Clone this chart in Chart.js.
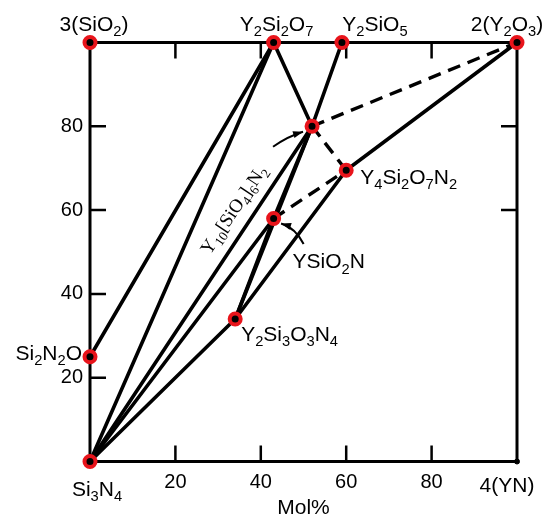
<!DOCTYPE html>
<html>
<head>
<meta charset="utf-8">
<script src="https://cdn.jsdelivr.net/npm/chart.js@4.4.1/dist/chart.umd.min.js"></script>
<style>
  body { margin: 0; background: #fff; }
  #wrap { width: 546px; height: 519px; }
</style>
</head>
<body>
<div id="wrap"><canvas id="phase"></canvas></div>
<script>
// compositions: x = mol% toward YN side, y = mol% toward oxide side
const compounds = ['Si3N4', '3(SiO2)', 'Y2Si2O7', 'Y2SiO5', '2(Y2O3)', '4(YN)', 'Si2N2O', 'Y10[SiO4]6N2', 'Y4Si2O7N2', 'YSiO2N', 'Y2Si3O3N4'];
const molX = [0, 0, 43, 59, 100, 100, 0, 52, 60, 43, 34];
const molY = [0, 100, 100, 100, 100, 0, 25, 80, 69.5, 58, 34];

// tie lines between compounds
const solidTies = [
  ['Si2N2O', 'Y2Si2O7'],
  ['Si3N4', 'Y2Si2O7'],
  ['Si3N4', 'Y10[SiO4]6N2'],
  ['Si3N4', 'YSiO2N'],
  ['Si3N4', 'Y2Si3O3N4'],
  ['Y2Si2O7', 'Y10[SiO4]6N2'],
  ['Y10[SiO4]6N2', 'Y2SiO5'],
  ['YSiO2N', 'Y10[SiO4]6N2'],
  ['Y2Si3O3N4', 'YSiO2N'],
  ['Y2Si3O3N4', 'Y10[SiO4]6N2'],
  ['Y2Si3O3N4', 'Y4Si2O7N2'],
  ['Y4Si2O7N2', '2(Y2O3)']
];
const dashedTies = [
  ['Y10[SiO4]6N2', '2(Y2O3)'],
  ['Y10[SiO4]6N2', 'Y4Si2O7N2'],
  ['YSiO2N', 'Y4Si2O7N2']
];
const axisTicks = [20, 40, 60, 80];
const axisTitle = 'Mol%';

const SANS = '"Liberation Sans", Arial, sans-serif';
const SERIF = '"Liberation Serif", "Times New Roman", serif';
const RED = '#e8141b';

// label placement (pixel offsets from the point)
const labelStyle = {
  'Si3N4':        { dx: 7,   dy: 34,  align: 'center' },
  '3(SiO2)':      { dx: 4,   dy: -12, align: 'center' },
  'Y2Si2O7':      { dx: 3,   dy: -12, align: 'center' },
  'Y2SiO5':       { dx: 33,  dy: -12, align: 'center' },
  '2(Y2O3)':      { dx: -10, dy: -12, align: 'center' },
  '4(YN)':        { dx: -10, dy: 30,  align: 'center' },
  'Si2N2O':       { dx: -8,  dy: 3,   align: 'right' },
  'Y4Si2O7N2':    { dx: 14,  dy: 14,  align: 'left' },
  'YSiO2N':       { dx: 19,  dy: 50,  align: 'left' },
  'Y2Si3O3N4':    { dx: 6,   dy: 22,  align: 'left' },
  'Y10[SiO4]6N2': { dx: -79, dy: 83,  align: 'center', rot: -56, serif: true, size: 19 }
};
// arrows pointing at a compound: tail, control, head offsets in px
const arrowStyle = {
  'Y10[SiO4]6N2': { tail: [-39, 20.5], ctrl: [-24, 10], head: [-9, 5.5] },
  'YSiO2N':       { tail: [30, 25.5],  ctrl: [22, 9.5], head: [7.5, 5] }
};

function pt(name) {
  const i = compounds.indexOf(name);
  return { x: molX[i], y: molY[i] };
}

function drawChem(ctx, str, x, y, size, align, family) {
  const parts = str.split(/(?<=[A-Za-z\)\]])(\d+)/);
  const subSize = size * 0.7;
  let w = 0;
  const runs = parts.map((p, i) => {
    const sub = i % 2 === 1;
    ctx.font = (sub ? subSize : size) + 'px ' + family;
    const rw = ctx.measureText(p).width;
    w += rw;
    return { p, sub, rw };
  });
  let cx = align === 'left' ? x : align === 'right' ? x - w : x - w / 2;
  ctx.textAlign = 'left';
  ctx.textBaseline = 'alphabetic';
  runs.forEach(r => {
    ctx.font = (r.sub ? subSize : size) + 'px ' + family;
    ctx.fillText(r.p, cx, r.sub ? y + size * 0.24 : y);
    cx += r.rw;
  });
}

const diagramPlugin = {
  id: 'diagram',
  beforeDatasetsDraw(chart) {
    const ctx = chart.ctx;
    const xs = chart.scales.x, ys = chart.scales.y;
    const x0 = xs.getPixelForValue(0), x1 = xs.getPixelForValue(100);
    const y0 = ys.getPixelForValue(0), y1 = ys.getPixelForValue(100);
    const tl = 16;
    ctx.save();
    ctx.strokeStyle = '#000';
    ctx.lineWidth = 3;
    ctx.strokeRect(x0, y1, x1 - x0, y0 - y1);
    ctx.lineWidth = 2.5;
    ctx.beginPath();
    axisTicks.forEach(v => {
      const px = xs.getPixelForValue(v), py = ys.getPixelForValue(v);
      ctx.moveTo(px, y0); ctx.lineTo(px, y0 - tl);
      ctx.moveTo(px, y1); ctx.lineTo(px, y1 + tl);
      ctx.moveTo(x0, py); ctx.lineTo(x0 + tl, py);
      if (v >= 60) { ctx.moveTo(x1, py); ctx.lineTo(x1 - tl, py); }
    });
    ctx.stroke();
    ctx.restore();
  },
  afterDatasetsDraw(chart) {
    const ctx = chart.ctx;
    const xs = chart.scales.x, ys = chart.scales.y;
    ctx.save();
    ctx.fillStyle = '#000';
    compounds.forEach((name, i) => {
      const s = labelStyle[name];
      if (!s) return;
      const px = xs.getPixelForValue(molX[i]) + s.dx;
      const py = ys.getPixelForValue(molY[i]) + s.dy;
      const size = s.size || 21;
      if (s.rot) {
        ctx.save();
        ctx.translate(px, py);
        ctx.rotate(s.rot * Math.PI / 180);
        drawChem(ctx, name, 0, size * 0.35, size, s.align, s.serif ? SERIF : SANS);
        ctx.restore();
      } else {
        drawChem(ctx, name, px, py, size, s.align, s.serif ? SERIF : SANS);
      }
    });
    // arrows
    ctx.strokeStyle = '#000';
    ctx.lineWidth = 2;
    Object.keys(arrowStyle).forEach(name => {
      const a = arrowStyle[name];
      const p = pt(name);
      const bx = xs.getPixelForValue(p.x), by = ys.getPixelForValue(p.y);
      const t = [bx + a.tail[0], by + a.tail[1]];
      const c = [bx + a.ctrl[0], by + a.ctrl[1]];
      const h = [bx + a.head[0], by + a.head[1]];
      ctx.beginPath();
      ctx.moveTo(t[0], t[1]);
      ctx.quadraticCurveTo(c[0], c[1], h[0], h[1]);
      ctx.stroke();
      const ang = Math.atan2(h[1] - c[1], h[0] - c[0]);
      ctx.beginPath();
      ctx.moveTo(h[0], h[1]);
      ctx.lineTo(h[0] - 10 * Math.cos(ang) + 3.5 * Math.sin(ang), h[1] - 10 * Math.sin(ang) - 3.5 * Math.cos(ang));
      ctx.lineTo(h[0] - 10 * Math.cos(ang) - 3.5 * Math.sin(ang), h[1] - 10 * Math.sin(ang) + 3.5 * Math.cos(ang));
      ctx.closePath();
      ctx.fill();
    });
    ctx.restore();
  }
};

const datasets = [];
solidTies.forEach(([a, b]) => {
  datasets.push({ data: [pt(a), pt(b)], showLine: true, borderColor: '#000', borderWidth: 3.6,
    borderCapStyle: 'round', pointRadius: 0, order: 2, clip: false });
});
dashedTies.forEach(([a, b]) => {
  datasets.push({ data: [pt(a), pt(b)], showLine: true, borderColor: '#000', borderWidth: 3.4,
    borderDash: [13, 8], pointRadius: 0, order: 2, clip: false });
});
// compound markers (red ring, black centre); 4(YN) is a plain dot
datasets.push({
  data: compounds.filter(n => n !== '4(YN)').map(pt),
  showLine: false, pointRadius: 5.5, borderWidth: 4, pointHoverRadius: 5.5,
  backgroundColor: '#000', borderColor: RED, order: 0, clip: false
});
datasets.push({
  data: [pt('4(YN)')], showLine: false, pointRadius: 2.5, backgroundColor: '#000',
  borderColor: '#000', borderWidth: 1, order: 0, clip: false
});

new Chart(document.getElementById('phase'), {
  type: 'scatter',
  data: { datasets: datasets },
  options: {
    responsive: true,
    maintainAspectRatio: false,
    animation: false,
    layout: { padding: { top: 42.5, right: 29, bottom: 0, left: 0 } },
    plugins: { legend: { display: false }, tooltip: { enabled: false } },
    scales: {
      x: {
        type: 'linear', min: 0, max: 100,
        grid: { display: false, drawTicks: false },
        border: { display: false },
        afterBuildTicks: s => { s.ticks = axisTicks.map(v => ({ value: v })); },
        afterFit: s => { s.height = 57.5; },
        ticks: { autoSkip: false, padding: 9, color: '#000', font: { family: SANS, size: 20 } },
        title: { display: true, text: axisTitle, color: '#000', padding: 0,
          font: { family: SANS, size: 21, lineHeight: 1.0 } }
      },
      y: {
        type: 'linear', min: 0, max: 100,
        grid: { display: false, drawTicks: false },
        border: { display: false },
        afterBuildTicks: s => { s.ticks = axisTicks.map(v => ({ value: v })); },
        afterFit: s => { s.width = 90; },
        ticks: { autoSkip: false, padding: 7, color: '#000', font: { family: SANS, size: 20 } }
      }
    }
  },
  plugins: [diagramPlugin]
});
</script>
</body>
</html>
